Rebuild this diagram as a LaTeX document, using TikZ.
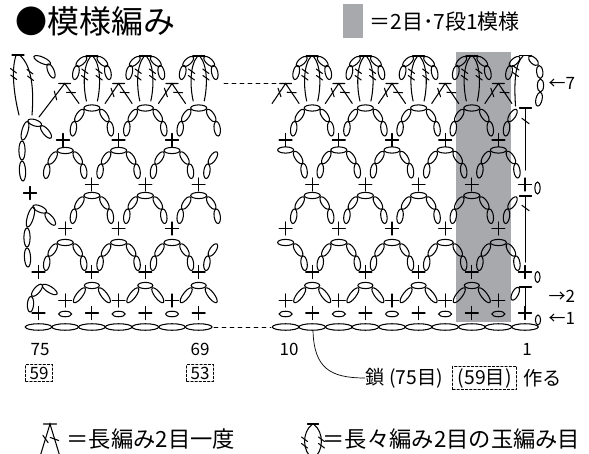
\documentclass[tikz,border=0pt]{standalone}
\usepackage{fontspec}
\setmainfont{Noto Sans CJK JP}
\usetikzlibrary{calc,positioning}
\definecolor{bandgray}{HTML}{A7A9AC}
% chain oval between two points (pixel coords, y down)
\newcommand\chov[5][6.2]{%
  \pgfmathsetmacro\ovA{atan2(-((#5)-(#3)),(#4)-(#2))}%
  \pgfmathsetmacro\ovL{0.5*veclen((#4)-(#2),(#5)-(#3))}%
  \pgfmathsetmacro\ovX{0.5*((#2)+(#4))}%
  \pgfmathsetmacro\ovY{0.5*((#3)+(#5))}%
  \draw[rotate around={\ovA:(\ovX,\ovY)}] (\ovX,\ovY) ellipse [x radius=\ovL pt, y radius=#1pt/2];%
}
\newcommand\sck[2]{\draw ({#1-6.5},#2) -- ({#1+6.5},#2) (#1,{#2-6.5}) -- (#1,{#2+6.5});}
\newcommand\archT[2]{\chov{#1-7.5}{#2}{#1+7.5}{#2}\chov{#1-7}{#2+2.5}{#1-18}{#2+17}\chov{#1+7}{#2+2.5}{#1+18}{#2+17}}
\newcommand\archLH[2]{\chov{#1-8.5}{#2+1.5}{#1-16.5}{#2+13.5}\chov{#1-17.5}{#2+13.5}{#1-19.5}{#2+28}}
\newcommand\archRH[2]{\chov{#1-8}{#2}{#1+8}{#2}\chov{#1+8.5}{#2+1.5}{#1+16.5}{#2+13.5}\chov{#1+17.5}{#2+13.5}{#1+19.5}{#2+28}}
\newcommand\archF[2]{\archLH{#1}{#2}\archRH{#1}{#2}}
\newcommand\lslash[4]{\draw ($(#1,#2)!4.5pt!-127:(#3,#4)$) -- ($(#1,#2)!4.5pt!53:(#3,#4)$);}
\newcommand\dctog[1]{%
  \draw ({#1-6},83.5) -- ({#1+6},83.5) ({#1-13.5},103.5) -- (#1,83.5) -- ({#1+13.5},103.5);
  \lslash{#1-6.1}{92.5}{#1-13.5}{103.5}\lslash{#1+6.1}{92.5}{#1+13.5}{103.5}}
\newcommand\clus[1]{%
  \draw ({#1-6},56) -- ({#1+6},56);
  \draw ({#1-1},56) .. controls ({#1-9.5},66) and ({#1-8.5},88) .. ({#1-5.5},101);
  \draw ({#1+1},56) .. controls ({#1+9.5},66) and ({#1+8.5},88) .. ({#1+5.5},101);
  \draw ({#1-10.2},69) -- ({#1-4},73.5) ({#1-10.4},75.5) -- ({#1-4.2},80);
  \draw ({#1+4},69) -- ({#1+10.2},73.5) ({#1+4.2},75.5) -- ({#1+10.4},80);
  \chov{#1-5.5}{57}{#1-15.5}{66}\chov{#1-14.5}{65.5}{#1-17.5}{79.5}%
  \chov{#1+5.5}{57}{#1+15.5}{66}\chov{#1+14.5}{65.5}{#1+17.5}{79.5}}
\newcommand\atL[2]{\foreach \k in {#1}{\pgfmathsetmacro\cx{38.5+26.7*\k}#2}}
\newcommand\atR[2]{\foreach \j in {#1}{\pgfmathsetmacro\cx{525-26.6*(\j-1)}#2}}
\tikzset{
  tx17/.style={inner sep=0pt, font=\fontsize{17}{17}\selectfont},
  tx19/.style={inner sep=0pt, font=\fontsize{19.3}{19.3}\selectfont},
  tx21/.style={inner sep=0pt, font=\fontsize{22.3}{22.3}\selectfont},
  dbox/.style={draw, dash pattern=on 2.4pt off 1.8pt, line width=0.7pt, inner xsep=4pt, inner ysep=2pt},
  dln/.style={dash pattern=on 4pt off 4pt, line width=0.8pt}
}
\begin{document}
\begin{tikzpicture}[x=1pt,y=-1pt,line width=1.05pt,line cap=round]
\useasboundingbox (0,0) rectangle (589,454);
\fill[bandgray] (456,52) rectangle (511,322);
% foundation chain
\atL{0,...,6}{\chov[6.5]{\cx-13.3}{327}{\cx+13.3}{327}}
\atR{1,...,10}{\chov[6.5]{\cx-13.3}{327}{\cx+13.3}{327}}
\draw (538,320) ellipse [x radius=2.6pt, y radius=5pt];
\draw[dln] (214,327) -- (271,327);
% row 1
\atL{0,2,4,6}{\sck{\cx}{313}}
\atL{1,3,5}{\chov[5.5]{\cx-6.5}{314}{\cx+6.5}{314}}
\atR{1,3,5,7,9}{\sck{\cx}{313}}
\atR{2,4,6,8,10}{\chov[5.5]{\cx-6.5}{314}{\cx+6.5}{314}}
% row 2
\atL{1,3,5}{\sck{\cx}{300.5}}
\atL{2,4,6}{\archT{\cx}{285.5}}
\atR{2,4,6,8,10}{\sck{\cx}{300.5}}
\atR{3,5,7,9}{\archT{\cx}{285.5}}
\chov{30}{312}{31}{296.5}\chov{32}{296}{42}{284.5}\chov{42.5}{285}{57}{294}
\chov{512}{300}{518.5}{287.5}
\draw (519.5,287) -- (531.5,287) (525.5,287) -- (525.5,306.5);
% row 3
\atL{0,2,4,6}{\sck{\cx}{272}}
\atL{1,3,5}{\archF{\cx}{242.5}}
\atL{7}{\archLH{\cx}{242.5}}
\atR{1,3,5,7,9}{\sck{\cx}{272}}
\atR{2,4,6,8}{\archF{\cx}{242.5}}
\atR{10}{\archRH{\cx}{242.5}}
\draw (537.5,277) ellipse [x radius=2.6pt, y radius=5.5pt];
% row 4
\atL{1,3,5}{\sck{\cx}{228.5}}
\atL{2,4,6}{\archF{\cx}{195.5}}
\chov{55}{225}{45.5}{213}\chov{46.5}{212}{33}{206}\chov{33.5}{207}{27.5}{227}\chov{27}{228}{27}{247}\chov{27}{248}{28}{267}
\atR{2,4,6,8,10}{\sck{\cx}{228.5}}
\atR{3,5,7,9}{\archF{\cx}{195.5}}
\atR{1}{\archLH{\cx}{195.5}}
\draw (519.5,196) -- (531.5,196) (525.5,196) -- (525.5,262);
\lslash{525.5}{208}{525.5}{262}
% row 5
\sck{30}{193}
\atL{2,4,6}{\sck{\cx}{184.5}}
\atL{1,3,5}{\archF{\cx}{150.5}}
\atL{7}{\archLH{\cx}{150.5}}
\atR{1,3,5,7,9}{\sck{\cx}{184.5}}
\atR{2,4,6,8}{\archF{\cx}{150}}
\atR{10}{\archRH{\cx}{150}}
\draw (537.5,188) ellipse [x radius=2.6pt, y radius=6pt];
% row 6
\sck{63}{140}
\atL{3,5}{\sck{\cx}{140}}
\atL{2,4,6}{\archF{\cx}{108}}
\chov{51}{138}{41}{126}\chov{41.5}{125}{28}{120.5}\chov{27.5}{121.5}{22.5}{140}\chov{22}{141}{22}{160}\chov{22}{161}{23}{181}
\atR{2,4,6,8,10}{\sck{\cx}{140}}
\atR{3,5,7,9}{\archF{\cx}{108}}
\atR{1}{\archLH{\cx}{108}}
\draw (519.5,108) -- (531.5,108) (525.5,108) -- (525.5,170);
\lslash{525.5}{121}{525.5}{170}
% row 7 left edge
\draw (12,55) -- (24,55);
\draw (16,55.5) .. controls (11,70) and (14,95) .. (19,115);
\draw (20,55.5) .. controls (32,66) and (34,90) .. (32,115);
\draw (10.5,68.5) -- (16.5,73) (10.7,75) -- (16.7,79.5);
\draw (27,69.5) -- (33,74) (27.5,76) -- (33.5,80.5);
\chov{34}{56.5}{50.5}{64}\chov{48}{64}{54}{78}
\draw (58.7,83.5) -- (70.7,83.5) (39,117) -- (64.7,83.5) -- (79,103.5);
\lslash{55.5}{95.5}{39}{117}\lslash{71}{92.5}{79}{103.5}
\atL{3,5}{\dctog{\cx}}
\atL{2,4,6}{\clus{\cx}}
\draw[dln] (224,83.5) -- (277,83.5);
% row 7 right
\atR{2,4,6,8,10}{\dctog{\cx}}
\atR{3,5,7,9}{\clus{\cx}}
\draw (519.5,55.5) -- (531.5,55.5);
\draw (523,56) .. controls (515,64) and (514,82) .. (515.5,106);
\draw (512.5,65.5) -- (519,70) (512,72) -- (518.5,76.5);
\chov{519.5}{57}{509.5}{66}\chov{510.5}{65.5}{507.5}{79.5}
\chov{529}{56.5}{538}{65}\chov{539}{65.5}{540.5}{78.5}\chov{540.5}{79}{540.5}{92}\chov{540.5}{92.5}{537.5}{106}
% row labels
\node[tx17, anchor=west] (r7) at (548,83) {←7};
\node[tx17, anchor=west] (r2) at (548,296) {→2};
\node[tx17, anchor=west] (r1) at (548,318) {←1};
% bottom numbers
\node[tx17] (n75) at (40,349.5) {75};
\node[tx17] (n69) at (200,349.5) {69};
\node[tx17] (n10) at (289,349.5) {10};
\node[tx17] (n1) at (527,349.5) {1};
\node[tx17, dbox] (b59) at (39,373) {59};
\node[tx17, dbox] (b53) at (200,373) {53};
% chain note
\node[tx19, anchor=west] (lbA) at (365,378) {鎖 (75目)};
\node[tx19, dbox, inner xsep=5pt, right=9pt of lbA] (lbB) {(59目)};
\node[tx19, right=6pt of lbB] (lbC) {作る};
\draw[line width=0.7pt] (313,330.5) .. controls (314,368) and (330,378) .. (lbA.west);
% title & key
\node[anchor=west, inner sep=0pt, font=\fontsize{32}{32}\selectfont] (title) at (15,21) {●模様編み};
\fill[bandgray] (343,4) rectangle (363,38);
\node[anchor=west, inner sep=0pt, font=\fontsize{21}{21}\selectfont] (key) at (369,22) {＝2目･7段1模様};
% legend symbols
\draw (43.5,424) -- (56.5,424) (40.5,455) -- (50,424) -- (59.5,455);
\lslash{45.5}{439}{40.5}{455}\lslash{54.5}{439}{59.5}{455}
\node[tx21, anchor=west] (lgA) at (66,439) {＝長編み2目一度};
\draw (307.5,424) -- (318.5,424);
\draw (312,424.5) .. controls (302,432) and (302,452) .. (313,458.5) .. controls (324,452) and (324,432) .. (314,424.5);
\draw (301.5,437) -- (307.5,441.5) (301.5,443.5) -- (307.5,448);
\draw (318.5,437) -- (324.5,441.5) (318.5,443.5) -- (324.5,448);
\node[tx21, anchor=west] (lgB) at (322,439) {＝長々編み2目の玉編み目};
\end{tikzpicture}
\end{document}
